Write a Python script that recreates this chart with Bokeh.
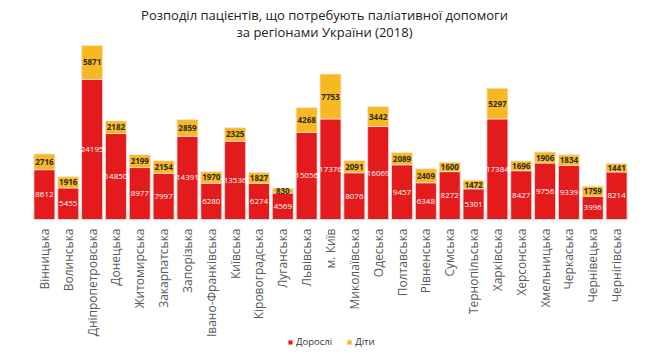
import math
from bokeh.plotting import figure
from bokeh.models import ColumnDataSource, Range1d, Legend, LegendItem, FactorRange, Span, Label
from bokeh.core.properties import value
from bokeh.embed import file_html
from bokeh.resources import INLINE

regions = ["Вінницька", "Волинська", "Дніпропетровська", "Донецька", "Житомирська",
           "Закарпатська", "Запорізька", "Івано-Франківська", "Київська", "Кіровоградська",
           "Луганська", "Львівська", "м. Київ", "Миколаївська", "Одеська", "Полтавська",
           "Рівненська", "Сумська", "Тернопільська", "Харківська", "Херсонська",
           "Хмельницька", "Черкаська", "Чернівецька", "Чернігівська"]
adults = [8612, 5455, 24195, 14850, 8977, 7997, 14391, 6280, 13536, 6274, 4569, 15056,
          17376, 8076, 16069, 9457, 6348, 8272, 5301, 17384, 8427, 9756, 9339, 3996, 8214]
children = [2716, 1916, 5871, 2182, 2199, 2154, 2859, 1970, 2325, 1827, 830, 4268,
            7753, 2091, 3442, 2089, 2409, 1600, 1472, 5297, 1696, 1906, 1834, 1759, 1441]
series_names = ["Дорослі", "Діти"]
title_lines = ["Розподіл пацієнтів, що потребують паліативної допомоги",
               "за регіонами України (2018)"]

RED = "#E31B1D"
YEL = "#F6B922"
FONT = "Open Sans"

src = ColumnDataSource(dict(
    region=regions,
    adults=adults,
    children=children,
    zero=[0] * len(regions),
    a_mid=[a / 2 for a in adults],
    c_mid=[a + c / 2 for a, c in zip(adults, children)],
    a_txt=[str(a) for a in adults],
    c_txt=[str(c) for c in children],
))

W, H = 658, 361
ymax = max(a + c for a, c in zip(adults, children))
# frame covers the whole canvas height: 45 px title area, 174 px of bars, 142 px labels/legend
unit = ymax / 174.0
y_top = ymax + 45 * unit
y_bot = -142 * unit

p = figure(x_range=FactorRange(*regions, range_padding=0.0), y_range=Range1d(y_bot, y_top),
           width=W, height=H, output_backend="svg", toolbar_location=None,
           min_border_left=32, min_border_right=30, min_border_top=0, min_border_bottom=0)

for line, ypx in zip(title_lines, [14, 31]):
    p.add_layout(Label(x=292, y=H - ypx, x_units="screen", y_units="screen", text=line,
                       text_align="center", text_baseline="middle",
                       text_font=FONT, text_font_size="13px", text_color="#222222"))

r = p.vbar_stack(["adults", "children"], x="region", width=0.88, source=src,
                 color=[RED, YEL], line_color="#fbe0d8", line_width=0.8)

p.text(x="region", y="a_mid", text="a_txt", source=src, text_color="white",
       text_font=value(FONT), text_font_size="8px", text_align="center", text_baseline="middle")
p.text(x="region", y="c_mid", text="c_txt", source=src, text_color="#2b2b2b",
       text_font=value(FONT), text_font_size="8px", text_font_style="bold",
       text_align="center", text_baseline="middle")

# category labels, rotated, hanging below the baseline
p.text(x="region", y="zero", text="region", source=src, angle=math.pi / 2,
       text_align="right", text_baseline="middle", y_offset=9,
       text_font=value(FONT), text_font_size="12px", text_color="#595959")

p.add_layout(Span(location=0, dimension="width", line_color="#d9d9d9", line_width=1))

p.xaxis.visible = False
p.yaxis.visible = False
p.xgrid.visible = False
p.ygrid.visible = False
p.outline_line_color = None

legend = Legend(items=[LegendItem(label=series_names[0], renderers=[r[0]]),
                       LegendItem(label=series_names[1], renderers=[r[1]])],
                orientation="horizontal", location=(255, 13),
                label_text_font=FONT, label_text_font_size="9.5px", label_text_color="#333333",
                glyph_width=6, glyph_height=6, spacing=14, padding=2, margin=0,
                label_standoff=3, border_line_color=None, background_fill_alpha=0)
p.add_layout(legend, "center")

open("out.html", "w").write(file_html(p, INLINE))
